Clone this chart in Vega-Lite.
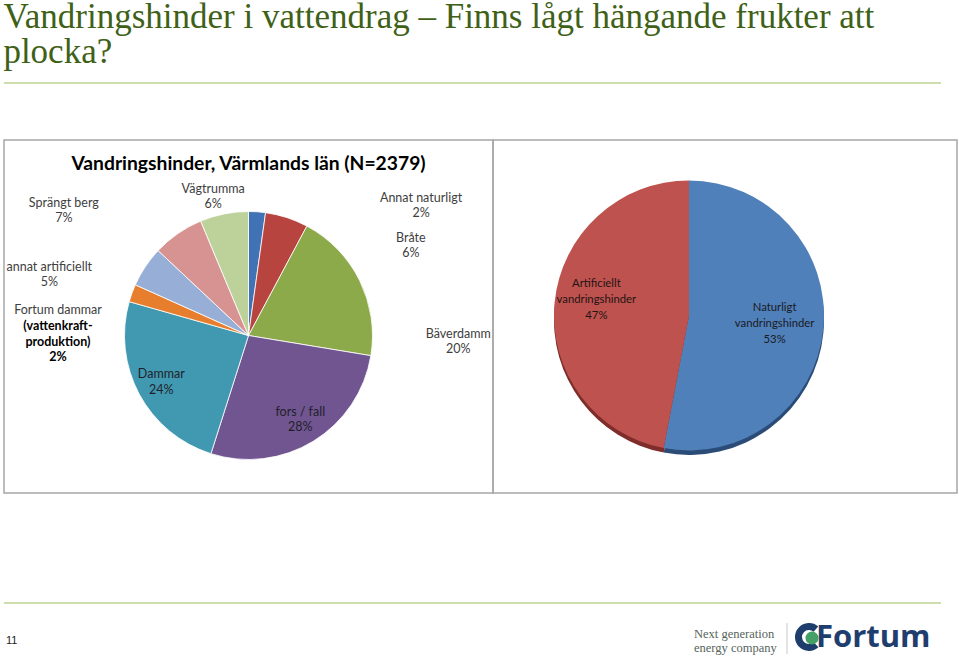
{
  "$schema": "https://vega.github.io/schema/vega-lite/v6.json",
  "padding": {"left": 3, "top": 0, "right": 0, "bottom": 0},
  "background": "white",
  "spacing": 0,
  "config": {"view": {"stroke": "#A6A6A6", "strokeWidth": 1.5}, "concat": {"spacing": 0}},
  "datasets": {
    "slide": [{"del": "rubrik"}],
    "hinder": [
      {"typ": "Annat naturligt", "andel": 2.2, "nr": 1, "etikett": "Annat naturligt\n2%"},
      {"typ": "Bråte", "andel": 5.6, "nr": 2, "etikett": "Bråte\n6%"},
      {"typ": "Bäverdamm", "andel": 19.8, "nr": 3, "etikett": "Bäverdamm\n20%"},
      {"typ": "fors / fall", "andel": 27.3, "nr": 4, "etikett": "fors / fall\n28%"},
      {"typ": "Dammar", "andel": 24.5, "nr": 5, "etikett": "Dammar\n24%"},
      {"typ": "Fortum dammar", "andel": 2.3, "nr": 6, "etikett": "Fortum dammar", "etikett2": "(vattenkraft-\nproduktion)\n2%"},
      {"typ": "annat artificiellt", "andel": 5.3, "nr": 7, "etikett": "annat artificiellt\n5%"},
      {"typ": "Sprängt berg", "andel": 6.7, "nr": 8, "etikett": "Sprängt berg\n7%"},
      {"typ": "Vägtrumma", "andel": 6.3, "nr": 9, "etikett": "Vägtrumma\n6%"}
    ],
    "typ2": [
      {"typ": "Naturligt vandringshinder", "andel": 53, "nr": 1, "etikett": "Naturligt\nvandringshinder\n53%"},
      {"typ": "Artificiellt vandringshinder", "andel": 47, "nr": 2, "etikett": "Artificiellt\nvandringshinder\n47%"}
    ],
    "fot": [
      {"del": "sida", "text": "11"},
      {"del": "slogan", "text": "Next generation\nenergy company"},
      {"del": "logo", "text": "Fortum"}
    ]
  },
  "vconcat": [
    {
      "width": 937,
      "height": 56,
      "view": {"stroke": null},
      "title": {
        "text": ["Vandringshinder i vattendrag – Finns lågt hängande frukter att", "plocka?"],
        "font": "Liberation Serif",
        "fontSize": 35,
        "fontWeight": "normal",
        "lineHeight": 35,
        "color": "#3E6117",
        "anchor": "start",
        "offset": 12
      },
      "data": {"name": "slide"},
      "mark": {"type": "rule", "color": "#9BBB59", "strokeWidth": 1.2},
      "encoding": {"x": {"value": 0}, "x2": {"value": 937}, "y": {"value": 0}}
    },
    {
      "bounds": "flush",
      "spacing": 0,
      "hconcat": [
        {
          "width": 489,
          "height": 353,
          "view": {"stroke": "#A6A6A6", "strokeWidth": 1.5},
          "title": {
            "text": "Vandringshinder, Värmlands län (N=2379)",
            "font": "Lato",
            "fontSize": 19.3,
            "fontWeight": "bold",
            "color": "#000000",
            "baseline": "middle",
            "offset": -43,
            "anchor": "middle"
          },
          "data": {"name": "hinder"},
          "encoding": {
            "theta": {"field": "andel", "type": "quantitative", "stack": true},
            "order": {"field": "nr", "type": "quantitative"}
          },
          "layer": [
            {
              "mark": {"type": "arc", "outerRadius": 124, "stroke": "#ffffff", "strokeWidth": 0.8, "y": 195.5},
              "encoding": {
                "color": {
                  "field": "typ",
                  "type": "nominal",
                  "scale": {
                    "domain": ["Annat naturligt", "Bråte", "Bäverdamm", "fors / fall", "Dammar", "Fortum dammar", "annat artificiellt", "Sprängt berg", "Vägtrumma"],
                    "range": ["#4072B5", "#B8443F", "#8CAA4A", "#715591", "#4198B1", "#E67E2D", "#97AED6", "#D79391", "#BDD29A"]
                  },
                  "legend": null
                }
              }
            },
            {
              "mark": {"type": "text", "radius": 99, "dy": -8, "y": 195.5, "font": "Lato", "fontSize": 12.5, "lineBreak": "\n", "lineHeight": 15.5, "color": "#1F1F2A", "align": "center", "baseline": "middle"},
              "encoding": {
                "detail": {"field": "typ", "type": "nominal"},
                "text": {"condition": {"test": "datum.typ === 'fors / fall' || datum.typ === 'Dammar'", "field": "etikett", "type": "nominal"}, "value": ""}
              }
            },
            {
              "mark": {"type": "text", "radius": 124, "dx": 164, "dy": -14, "y": 195.5, "font": "Lato", "fontSize": 12.5, "lineBreak": "\n", "lineHeight": 15.5, "color": "#404040", "align": "center", "baseline": "middle"},
              "encoding": {
                "detail": {"field": "typ", "type": "nominal"},
                "text": {"condition": {"test": "datum.typ === 'Annat naturligt'", "field": "etikett", "type": "nominal"}, "value": ""}
              }
            },
            {
              "mark": {"type": "text", "radius": 124, "dx": 124, "dy": 20, "y": 195.5, "font": "Lato", "fontSize": 12.5, "lineBreak": "\n", "lineHeight": 15.5, "color": "#404040", "align": "center", "baseline": "middle"},
              "encoding": {
                "detail": {"field": "typ", "type": "nominal"},
                "text": {"condition": {"test": "datum.typ === 'Bråte'", "field": "etikett", "type": "nominal"}, "value": ""}
              }
            },
            {
              "mark": {"type": "text", "radius": 60, "dx": 156, "dy": 25, "y": 195.5, "font": "Lato", "fontSize": 12.5, "lineBreak": "\n", "lineHeight": 15.5, "color": "#404040", "align": "center", "baseline": "middle"},
              "encoding": {
                "detail": {"field": "typ", "type": "nominal"},
                "text": {"condition": {"test": "datum.typ === 'Bäverdamm'", "field": "etikett", "type": "nominal"}, "value": ""}
              }
            },
            {
              "mark": {"type": "text", "radius": 124, "dx": -74, "dy": 17, "y": 195.5, "font": "Lato", "fontSize": 12.5, "lineBreak": "\n", "lineHeight": 15.5, "color": "#404040", "align": "center", "baseline": "middle"},
              "encoding": {
                "detail": {"field": "typ", "type": "nominal"},
                "text": {"condition": {"test": "datum.typ === 'Fortum dammar'", "field": "etikett", "type": "nominal"}, "value": ""}
              }
            },
            {
              "mark": {"type": "text", "radius": 124, "dx": -74, "dy": 33, "y": 195.5, "font": "Lato", "fontSize": 12.5, "fontWeight": "bold", "lineBreak": "\n", "lineHeight": 15.5, "color": "#000000", "align": "center", "baseline": "middle"},
              "encoding": {
                "detail": {"field": "typ", "type": "nominal"},
                "text": {"condition": {"test": "datum.typ === 'Fortum dammar'", "field": "etikett2", "type": "nominal"}, "value": ""}
              }
            },
            {
              "mark": {"type": "text", "radius": 124, "dx": -96, "dy": 0, "y": 195.5, "font": "Lato", "fontSize": 12.5, "lineBreak": "\n", "lineHeight": 15.5, "color": "#404040", "align": "center", "baseline": "middle"},
              "encoding": {
                "detail": {"field": "typ", "type": "nominal"},
                "text": {"condition": {"test": "datum.typ === 'annat artificiellt'", "field": "etikett", "type": "nominal"}, "value": ""}
              }
            },
            {
              "mark": {"type": "text", "radius": 124, "dx": -114, "dy": -31, "y": 195.5, "font": "Lato", "fontSize": 12.5, "lineBreak": "\n", "lineHeight": 15.5, "color": "#404040", "align": "center", "baseline": "middle"},
              "encoding": {
                "detail": {"field": "typ", "type": "nominal"},
                "text": {"condition": {"test": "datum.typ === 'Sprängt berg'", "field": "etikett", "type": "nominal"}, "value": ""}
              }
            },
            {
              "mark": {"type": "text", "radius": 124, "dx": -11, "dy": -25, "y": 195.5, "font": "Lato", "fontSize": 12.5, "lineBreak": "\n", "lineHeight": 15.5, "color": "#404040", "align": "center", "baseline": "middle"},
              "encoding": {
                "detail": {"field": "typ", "type": "nominal"},
                "text": {"condition": {"test": "datum.typ === 'Vägtrumma'", "field": "etikett", "type": "nominal"}, "value": ""}
              }
            }
          ]
        },
        {
          "width": 464,
          "height": 353,
          "view": {"stroke": "#A6A6A6", "strokeWidth": 1.5},
          "data": {"name": "typ2"},
          "encoding": {
            "theta": {"field": "andel", "type": "quantitative", "stack": true},
            "order": {"field": "nr", "type": "quantitative"}
          },
          "layer": [
            {
              "mark": {"type": "arc", "outerRadius": 135, "x": 196, "y": 180},
              "encoding": {
                "fill": {"field": "typ", "type": "nominal", "scale": {"domain": ["Naturligt vandringshinder", "Artificiellt vandringshinder"], "range": ["#2B4C77", "#7E2D2A"]}, "legend": null}
              }
            },
            {
              "mark": {"type": "arc", "outerRadius": 135, "x": 196, "y": 175.5},
              "encoding": {
                "color": {"field": "typ", "type": "nominal", "scale": {"domain": ["Naturligt vandringshinder", "Artificiellt vandringshinder"], "range": ["#4F80BA", "#BE524E"]}, "legend": null}
              }
            },
            {
              "mark": {"type": "text", "radius": 86, "dy": -16, "x": 196, "y": 175.5, "font": "Lato", "fontSize": 11.3, "lineBreak": "\n", "lineHeight": 16, "color": "#1A1A24", "align": "center", "baseline": "middle"},
              "encoding": {
                "detail": {"field": "typ", "type": "nominal"},
                "text": {"condition": {"test": "datum.typ === 'Naturligt vandringshinder'", "field": "etikett", "type": "nominal"}, "value": ""}
              }
            },
            {
              "mark": {"type": "text", "radius": 86, "dx": -7, "dy": -23, "x": 196, "y": 175.5, "font": "Lato", "fontSize": 11.3, "lineBreak": "\n", "lineHeight": 16, "color": "#241414", "align": "center", "baseline": "middle"},
              "encoding": {
                "detail": {"field": "typ", "type": "nominal"},
                "text": {"condition": {"test": "datum.typ === 'Artificiellt vandringshinder'", "field": "etikett", "type": "nominal"}, "value": ""}
              }
            }
          ],
          "resolve": {"scale": {"color": "independent", "fill": "independent"}}
        }
      ]
    },
    {
      "width": 937,
      "height": 167,
      "view": {"stroke": null},
      "data": {"name": "fot"},
      "layer": [
        {
          "transform": [{"filter": "datum.del === 'sida'"}],
          "mark": {"type": "rule", "color": "#9BBB59", "strokeWidth": 1.2},
          "encoding": {"x": {"value": 0}, "x2": {"value": 937}, "y": {"value": 109}}
        },
        {
          "transform": [{"filter": "datum.del === 'sida'"}],
          "mark": {"type": "text", "font": "Liberation Sans", "fontSize": 11, "align": "left", "baseline": "middle", "color": "#222222"},
          "encoding": {"x": {"value": 2}, "y": {"value": 147}, "text": {"field": "text", "type": "nominal"}}
        },
        {
          "transform": [{"filter": "datum.del === 'slogan'"}],
          "mark": {"type": "text", "font": "Liberation Serif", "fontSize": 12.5, "lineBreak": "\n", "lineHeight": 14, "align": "left", "baseline": "middle", "color": "#56645C"},
          "encoding": {"x": {"value": 690}, "y": {"value": 140}, "text": {"field": "text", "type": "nominal"}}
        },
        {
          "transform": [{"filter": "datum.del === 'logo'"}],
          "mark": {"type": "rule", "color": "#C8C8C8", "strokeWidth": 1},
          "encoding": {"x": {"value": 783}, "y": {"value": 129}, "y2": {"value": 160}}
        },
        {
          "transform": [{"filter": "datum.del === 'logo'"}],
          "mark": {"type": "arc", "innerRadius": 7, "outerRadius": 14, "color": "#1E3C6C"},
          "encoding": {"x": {"value": 805}, "y": {"value": 143}, "theta": {"value": 2.4}, "theta2": {"value": 7.0}}
        },
        {
          "transform": [{"filter": "datum.del === 'logo'"}],
          "mark": {"type": "point", "filled": true, "opacity": 1, "color": "#45A067", "size": 170},
          "encoding": {"x": {"value": 808}, "y": {"value": 144}}
        },
        {
          "transform": [{"filter": "datum.del === 'logo'"}],
          "mark": {"type": "text", "font": "Open Sans", "fontSize": 31, "fontWeight": "bold", "align": "left", "baseline": "alphabetic", "color": "#1F3E6D"},
          "encoding": {"x": {"value": 812}, "y": {"value": 153}, "text": {"field": "text", "type": "nominal"}}
        }
      ]
    }
  ]
}
